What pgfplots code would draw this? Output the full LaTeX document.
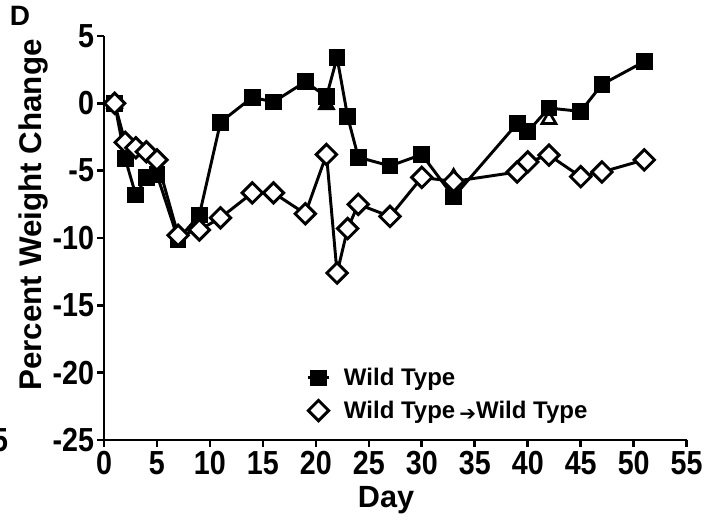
\documentclass[border=0pt]{standalone}
\usepackage{pgfplots}
\pgfplotsset{compat=1.18}
\usepackage{fontspec}
\setmainfont{Liberation Sans}
\newfontfamily\condfont[FakeStretch=0.86]{Liberation Sans}
\newfontfamily\symfont{DejaVu Sans}

% Wild Type
\pgfplotstableread{
day  pct
1    0.0
2   -4.1
3   -6.8
4   -5.5
5   -5.3
7  -10.1
9   -8.3
11  -1.4
14   0.45
16   0.1
19   1.6
21   0.5
22   3.4
23  -1.0
24  -4.0
27  -4.65
30  -3.8
33  -6.95
39  -1.5
40  -2.1
42  -0.35
45  -0.6
47   1.4
51   3.1
}\wt

% Wild Type -> Wild Type
\pgfplotstableread{
day  pct
1    0.0
2   -2.9
3   -3.3
4   -3.6
5   -4.2
7   -9.8
9   -9.4
11  -8.5
14  -6.65
16  -6.65
19  -8.2
21  -3.8
22 -12.6
23  -9.3
24  -7.5
27  -8.4
30  -5.5
33  -5.8
39  -5.1
40  -4.35
42  -3.85
45  -5.45
47  -5.1
51  -4.2
}\wtwt

\begin{document}
\begin{tikzpicture}
\begin{axis}[
  scale only axis, width=437pt, height=303pt,
  xmin=0, xmax=55, ymin=-25, ymax=5,
  clip=false,
  axis lines=left, axis line style={line width=2.2pt, -},
  xtick={0,5,...,55}, ytick={-25,-20,...,5},
  yticklabels={-25,-20,-15,-10,-5,0,5},
  tick align=outside, major tick length=5pt,
  tick style={line width=2pt, black},
  ticklabel style={font=\condfont\fontsize{25}{25}\selectfont\bfseries},
  yticklabel style={xshift=1pt},
  /pgf/number format/assume math mode=true,
  xlabel={Day}, ylabel={Percent Weight Change},
  label style={font=\fontsize{23}{23}\selectfont\bfseries},
  xlabel style={at={(axis description cs:0.484,-0.149)}, anchor=center},
  ylabel style={at={(axis description cs:-0.121,0.557)}, anchor=center,
    font=\fontsize{23.5}{23.5}\selectfont\bfseries},
  legend style={draw=none, fill=none, at={(axis cs:18.7,-19.25)}, anchor=north west,
    font=\fontsize{18}{24}\selectfont\bfseries, row sep=6pt,
    cells={anchor=west}},
  legend image code/.code={
    \draw[mark repeat=2, mark phase=2] plot coordinates {(0pt,0pt) (8pt,0pt) (16pt,0pt)};
    \path (24pt,0pt);},
]
% partly hidden triangles
\addplot[only marks, mark=triangle*, mark size=6pt, line width=2pt, black,
  forget plot] coordinates {(1,0) (21,-0.1)};
\addplot[only marks, mark=triangle*, mark size=6pt, line width=2pt, black,
  mark options={fill=white}, forget plot] coordinates {(33,-5.5) (42,-1.2)};

\addplot[line width=2.2pt, black, mark=square*, mark size=5.5pt,
  mark options={line width=1.5pt}] table[x=day, y=pct] {\wt};
\addlegendentry{Wild Type}

\addplot[line width=2.2pt, black, mark=square*, mark size=5.4pt,
  mark options={rotate=45, fill=white, line width=2.2pt}] table[x=day, y=pct] {\wtwt};
\addlegendentry{Wild Type\,{\symfont\fontsize{15}{15}\selectfont\raisebox{-1.5pt}{➔}}Wild Type}
\end{axis}
\node[font=\fontsize{21}{21}\selectfont\bfseries] at (-63pt,318pt) {D};
\node[font=\condfont\fontsize{25}{25}\selectfont\bfseries] at (-78pt,0pt) {5};
\pgfresetboundingbox
\useasboundingbox (-78pt,-60pt) rectangle (465pt,330pt);
\end{tikzpicture}
\end{document}
